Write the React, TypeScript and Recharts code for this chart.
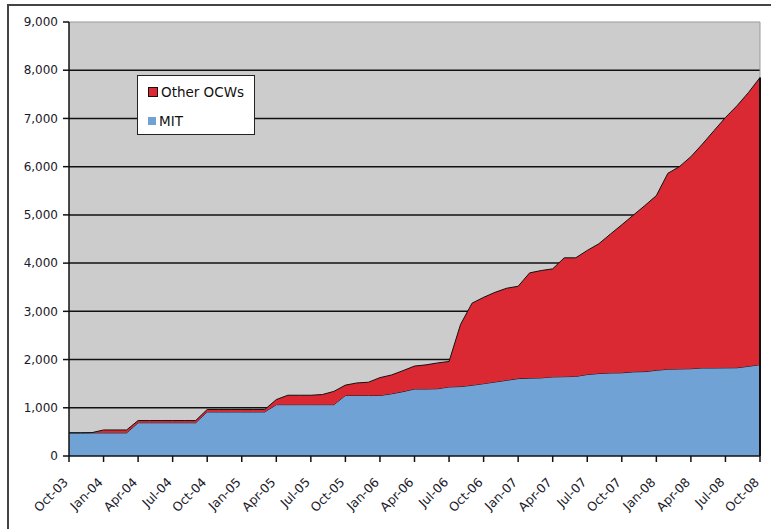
import React from 'react';
import { AreaChart, Area, XAxis, YAxis, CartesianGrid, Legend, ReferenceLine } from 'recharts';

const months = [
  'Oct-03', 'Nov-03', 'Dec-03', 'Jan-04', 'Feb-04', 'Mar-04', 'Apr-04', 'May-04', 'Jun-04', 'Jul-04',
  'Aug-04', 'Sep-04', 'Oct-04', 'Nov-04', 'Dec-04', 'Jan-05', 'Feb-05', 'Mar-05', 'Apr-05', 'May-05',
  'Jun-05', 'Jul-05', 'Aug-05', 'Sep-05', 'Oct-05', 'Nov-05', 'Dec-05', 'Jan-06', 'Feb-06', 'Mar-06',
  'Apr-06', 'May-06', 'Jun-06', 'Jul-06', 'Aug-06', 'Sep-06', 'Oct-06', 'Nov-06', 'Dec-06', 'Jan-07',
  'Feb-07', 'Mar-07', 'Apr-07', 'May-07', 'Jun-07', 'Jul-07', 'Aug-07', 'Sep-07', 'Oct-07', 'Nov-07',
  'Dec-07', 'Jan-08', 'Feb-08', 'Mar-08', 'Apr-08', 'May-08', 'Jun-08', 'Jul-08', 'Aug-08', 'Sep-08',
  'Oct-08',
];

const mit = [
  480, 480, 480, 480, 480, 480, 690, 690, 690, 690,
  690, 690, 915, 915, 915, 915, 915, 915, 1065, 1065,
  1065, 1065, 1065, 1065, 1255, 1255, 1255, 1255, 1290, 1335,
  1390, 1390, 1395, 1432, 1440, 1467, 1500, 1535, 1570, 1605,
  1615, 1620, 1640, 1645, 1650, 1690, 1710, 1722, 1725, 1745,
  1750, 1777, 1800, 1805, 1810, 1826, 1826, 1828, 1830, 1860,
  1894,
];

const otherOcws = [
  0, 0, 5, 60, 60, 60, 45, 45, 45, 45,
  45, 45, 50, 50, 50, 50, 50, 50, 105, 195,
  195, 195, 210, 275, 215, 260, 275, 370, 390, 435,
  475, 500, 535, 528, 1290, 1703, 1790, 1860, 1909, 1915,
  2183, 2226, 2241, 2465, 2460, 2573, 2690, 2878, 3070, 3250,
  3443, 3623, 4062, 4195, 4397, 4643, 4919, 5192, 5432, 5678,
  5955,
];

const yTicks = [0, 1000, 2000, 3000, 4000, 5000, 6000, 7000, 8000, 9000];
const gridValues = [1000, 2000, 3000, 4000, 5000, 6000, 7000, 8000];

const data = months.map((m, i) => ({ month: m, mit: mit[i], other: otherOcws[i] }));
const lastMonth = months[months.length - 1];
const lastTotal = mit[mit.length - 1] + otherOcws[otherOcws.length - 1];

const FONT = '"DejaVu Sans", Verdana, sans-serif';
const TEXT = '#1a1a2a';

const XTick = (props: any) => {
  const { x, y, payload } = props;
  return (
    <text
      transform={`translate(${x},${y + 19}) rotate(-45)`}
      textAnchor="end"
      fontSize={12.5}
      fontFamily={FONT}
      fill={TEXT}
    >
      {payload.value}
    </text>
  );
};

const LegendBox = () => (
  <div
    style={{
      width: 116,
      height: 58,
      background: '#fff',
      border: '1px solid #222',
      fontFamily: FONT,
      fontSize: 13.5,
      color: '#111',
      boxSizing: 'content-box',
    }}
  >
    {[
      { name: 'Other OCWs', color: '#da2932', top: 9 },
      { name: 'MIT', color: '#70a2d6', top: 38 },
    ].map((it) => (
      <div key={it.name} style={{ position: 'absolute', left: 11, top: it.top, display: 'flex', alignItems: 'center' }}>
        <span
          style={{
            display: 'inline-block',
            width: 8,
            height: 8,
            background: it.color,
            border: it.name === 'MIT' ? 'none' : '1px solid #111',
            marginRight: 3,
          }}
        />
        <span>{it.name}</span>
      </div>
    ))}
  </div>
);

export default function App() {
  return (
    <div style={{ position: 'absolute', left: 0, top: 0, width: 771, height: 529, overflow: 'hidden', background: '#fff' }}>
      <div
        style={{
          position: 'absolute',
          left: 7,
          top: 4,
          width: 800,
          height: 600,
          border: '2px solid #444',
        }}
      />
      <div style={{ position: 'absolute', left: 0, top: 0 }}>
        <AreaChart width={771} height={529} data={data} margin={{ top: 22, right: 11, left: 9, bottom: 3 }}>
          <CartesianGrid
            vertical={false}
            horizontalValues={gridValues}
            stroke="#111"
            strokeWidth={1.5}
            fill="#cccccc"
            fillOpacity={1}
          />
          <XAxis
            dataKey="month"
            interval={2}
            height={70}
            tick={<XTick />}
            tickSize={6}
            axisLine={{ stroke: '#111', strokeWidth: 1.5 }}
            tickLine={{ stroke: '#111', strokeWidth: 1.5 }}
          />
          <YAxis
            width={60}
            domain={[0, 9000]}
            ticks={yTicks}
            tickFormatter={(v: number) => v.toLocaleString('en-US')}
            tick={{ fill: TEXT, fontSize: 12, fontFamily: FONT }}
            tickSize={6}
            tickMargin={5}
            axisLine={{ stroke: '#111', strokeWidth: 1.5 }}
            tickLine={{ stroke: '#111', strokeWidth: 1.5 }}
          />
          <Legend
            layout="vertical"
            align="center"
            verticalAlign="middle"
            wrapperStyle={{ position: 'absolute', left: 137, top: 75, width: 118, height: 60 }}
            content={() => <LegendBox />}
          />
          <Area
            type="linear"
            dataKey="mit"
            name="MIT"
            stackId="1"
            stroke="#111"
            strokeWidth={1}
            fill="#70a2d6"
            fillOpacity={1}
            dot={false}
            activeDot={false}
            isAnimationActive={false}
          />
          <Area
            type="linear"
            dataKey="other"
            name="Other OCWs"
            stackId="1"
            stroke="#111"
            strokeWidth={1}
            fill="#da2932"
            fillOpacity={1}
            dot={false}
            activeDot={false}
            isAnimationActive={false}
          />
          <ReferenceLine y={9000} stroke="#999" strokeWidth={1} />
          <ReferenceLine x={lastMonth} stroke="#999" strokeWidth={1} />
          <ReferenceLine
            segment={[
              { x: lastMonth, y: 0 },
              { x: lastMonth, y: lastTotal },
            ]}
            stroke="#111"
            strokeWidth={2}
          />
        </AreaChart>
      </div>
    </div>
  );
}
